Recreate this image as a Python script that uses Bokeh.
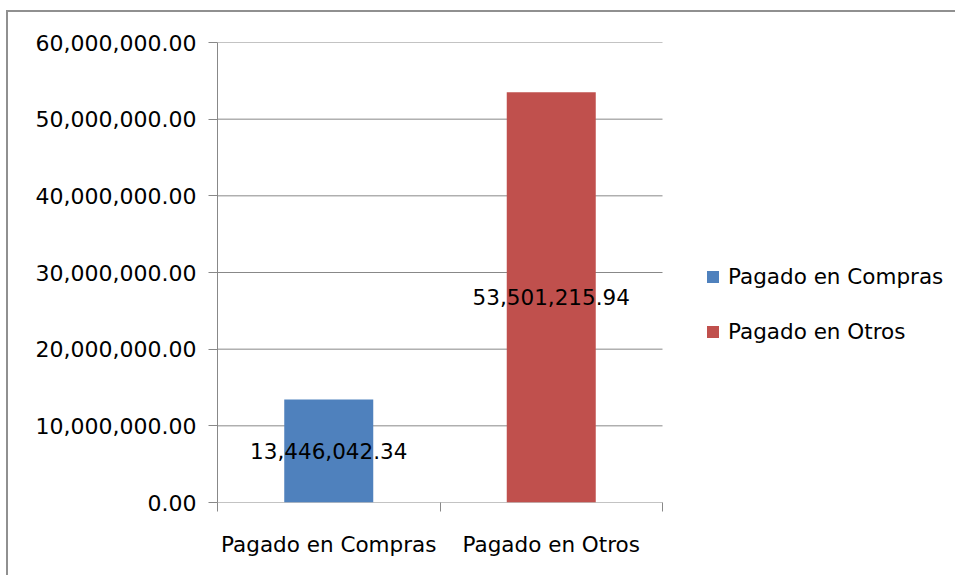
from bokeh.plotting import figure
from bokeh.models import (ColumnDataSource, FixedTicker, NumeralTickFormatter, LabelSet,
                          Legend, LegendItem, Range1d)
from bokeh.core.properties import value
from bokeh.embed import file_html
from bokeh.resources import INLINE

categories = ["Pagado en Compras", "Pagado en Otros"]
values = [13446042.34, 53501215.94]
colors = ["#4F81BD", "#C0504D"]
y_ticks = [0, 10000000, 20000000, 30000000, 40000000, 50000000, 60000000]

FONT = "DejaVu Sans"
FS = "21.5px"
GRAY = "#888888"

n = len(categories)
CAT_PX = 222.5          # pixel width of one category slot
FRAME_W = 738           # frame extends under the legend area
x_end = FRAME_W / CAT_PX

xs = [i + 0.5 for i in range(n)]
src = ColumnDataSource(dict(
    x=xs, top=values, half=[v / 2 for v in values], color=colors, cat=categories,
    label=[f"{v:,.2f}" for v in values],
))

p = figure(frame_width=FRAME_W, frame_height=460, output_backend="svg", toolbar_location=None,
           x_range=Range1d(0, x_end), y_range=Range1d(0, 60000000),
           min_border_left=209, min_border_right=0, min_border_top=30, min_border_bottom=73)
p.styles = {"border-left": "2px solid #909090", "border-top": "2px solid #909090",
            "margin-left": "6px", "margin-top": "10px"}
p.outline_line_color = None
p.background_fill_color = "white"
p.xgrid.grid_line_color = None
p.ygrid.grid_line_color = None

# horizontal gridlines (and the category axis line at 0) spanning only the category slots
p.segment(x0=0, x1=n, y0=y_ticks, y1=y_ticks, line_color=GRAY, line_width=1)

r = p.vbar(x="x", top="top", width=0.4, bottom=0, color="color", source=src, line_color=None)

# x axis: labels at category centres, tick marks at category boundaries
p.xaxis.ticker = FixedTicker(ticks=xs, minor_ticks=list(range(n + 1)))
p.xaxis.major_label_overrides = {x: c for x, c in zip(xs, categories)}
p.xaxis.major_tick_line_color = None
p.xaxis.minor_tick_out = 9
p.xaxis.minor_tick_in = 0
p.xaxis.minor_tick_line_color = GRAY
p.xaxis.axis_line_color = None
p.xaxis.major_label_text_font = FONT
p.xaxis.major_label_text_font_size = FS
p.xaxis.major_label_text_color = "#000000"
p.xaxis.major_label_standoff = 20

p.yaxis.ticker = FixedTicker(ticks=y_ticks)
p.yaxis.formatter = NumeralTickFormatter(format="0,0.00")
p.yaxis.major_tick_out = 9
p.yaxis.major_tick_in = 0
p.yaxis.minor_tick_line_color = None
p.yaxis.major_tick_line_color = GRAY
p.yaxis.axis_line_color = GRAY
p.yaxis.major_label_text_font = FONT
p.yaxis.major_label_text_font_size = "22px"
p.yaxis.major_label_text_color = "#000000"
p.yaxis.major_label_standoff = 12

labels = LabelSet(x="x", y="half", text="label", source=src, text_align="center",
                  text_baseline="middle", text_font=value(FONT), text_font_size=value(FS),
                  text_color="#000000")
p.add_layout(labels)

items = [LegendItem(label=c, renderers=[r], index=i) for i, c in enumerate(categories)]
legend = Legend(items=items, location=(488, 158), border_line_color=None,
                background_fill_color=None, label_text_font=FONT, label_text_font_size=FS,
                label_text_color="#000000",
                glyph_width=15, glyph_height=15, label_standoff=8, spacing=30, padding=0,
                margin=0, label_height=24)
p.add_layout(legend, "center")

open("out.html", "w").write(file_html(p, INLINE))
